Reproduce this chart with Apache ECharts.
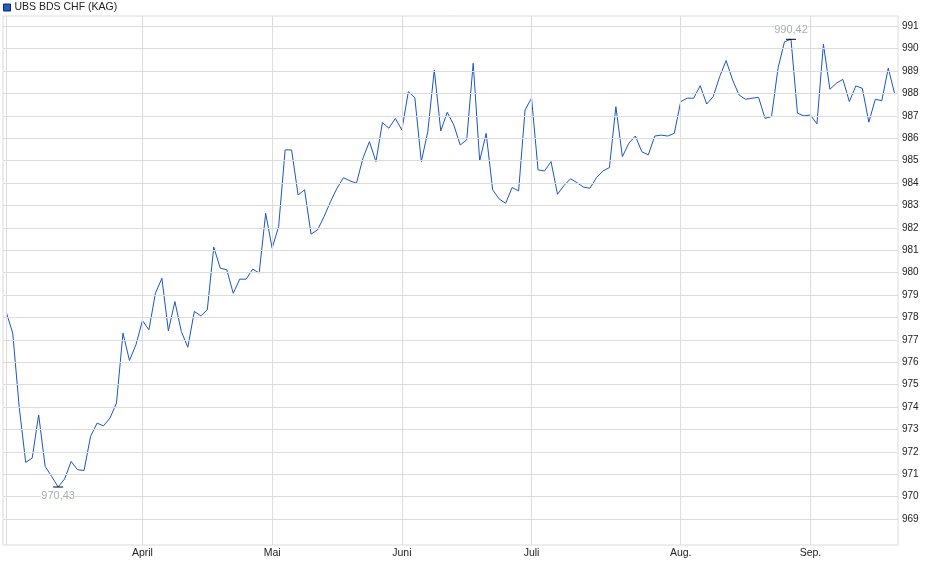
<!DOCTYPE html>
<html>
<head>
<meta charset="utf-8">
<script src="https://cdn.jsdelivr.net/npm/echarts@6/dist/echarts.min.js"></script>
<style>html,body{margin:0;padding:0;background:#fff}#c{width:940px;height:579px}</style>
</head>
<body>
<div id="c"></div>
<script>
const seriesName = 'UBS BDS CHF (KAG)';
const startDate = '2025-03-03';
const endDate = '2025-09-18';
const holidays = ['2025-04-18','2025-04-21','2025-05-01','2025-05-29','2025-06-09','2025-08-01'];
const monthNames = ['Jan.','Feb.','März','April','Mai','Juni','Juli','Aug.','Sep.','Okt.','Nov.','Dez.'];
const yTicks = [969,970,971,972,973,974,975,976,977,978,979,980,981,982,983,984,985,986,987,988,989,990,991];

const marchValues = [978.24,977.30,974.00,971.53,971.72,973.65,971.35,970.90,970.43,970.79,971.57,971.20,971.17,972.69,973.28,973.16,973.51,974.18,977.30,976.08,976.78];
const aprilValues = [977.86,977.45,979.08,979.75,977.40,978.71,977.37,976.67,978.27,978.07,978.34,981.14,980.20,980.13,979.08,979.71,979.71,980.16,979.98,982.65];
const mayValues = [981.09,982.06,985.48,985.48,983.47,983.70,981.72,981.91,982.50,983.17,983.77,984.24,984.10,983.99,985.11,985.85,984.96,986.70,986.45,986.89];
const juneValues = [986.37,988.08,987.81,984.96,986.30,989.05,986.33,987.16,986.60,985.70,985.93,989.35,984.99,986.22,983.70,983.29,983.10,983.80,983.65,987.27];
const julyValues = [987.79,984.59,984.54,984.96,983.50,983.89,984.19,984.02,983.82,983.77,984.24,984.54,984.69,987.41,985.18,985.78,986.10,985.40,985.26,986.10,986.14,986.10,986.22];
const augValues = [987.64,987.79,987.79,988.35,987.53,987.86,988.75,989.47,988.60,987.93,987.74,987.79,987.83,986.89,986.97,989.13,990.31,990.42,987.12,987.00];
const sepValues = [987.04,986.64,990.20,988.19,988.46,988.63,987.64,988.34,988.23,986.72,987.74,987.68,989.13,987.97];

const values = [].concat(marchValues, aprilValues, mayValues, juneValues, julyValues, augValues, sepValues);

// trading-day categories
const dates = [];
(function(){
  let d = new Date(startDate + 'T00:00:00Z');
  const end = new Date(endDate + 'T00:00:00Z');
  while (d <= end) {
    const s = d.toISOString().slice(0,10);
    const wd = d.getUTCDay();
    if (wd !== 0 && wd !== 6 && holidays.indexOf(s) < 0) dates.push(s);
    d = new Date(d.getTime() + 86400000);
  }
})();

const monthStartIdx = [];
dates.forEach((s, i) => { if (i === 0 || s.slice(0,7) !== dates[i-1].slice(0,7)) monthStartIdx.push(i); });

const fmt = v => v.toFixed(2).replace('.', ',');
const font = '"Liberation Sans", Arial, sans-serif';
const gridColor = '#dcdcdc';

const chart = echarts.init(document.getElementById('c'));
chart.setOption({
  animation: false,
  legend: {
    left: 3, top: 2, padding: 0,
    data: [seriesName],
    icon: 'rect', itemWidth: 7, itemHeight: 7, itemGap: 10,
    textStyle: { fontFamily: font, fontSize: 10.5, color: '#222', padding: [0,0,0,-1] },
    itemStyle: { color: '#1f5cc4', borderColor: '#0b2a66', borderWidth: 1 }
  },
  grid: { left: 3, right: 42, top: 16, bottom: 34, show: true, borderColor: gridColor, borderWidth: 1, containLabel: false },
  xAxis: {
    type: 'category', data: dates, boundaryGap: true,
    axisLine: { show: false }, axisTick: { show: false }, splitLine: { show: false },
    axisLabel: {
      interval: (idx) => idx > 0 && monthStartIdx.indexOf(idx) >= 0,
      formatter: v => monthNames[parseInt(v.slice(5,7),10) - 1],
      fontFamily: font, fontSize: 10.5, color: '#222', margin: 3
    }
  },
  yAxis: {
    type: 'value', position: 'right', min: 967.84, max: 991.46, scale: true,
    splitNumber: 24, minInterval: 1, maxInterval: 1,
    axisLine: { show: false }, axisTick: { show: false },
    splitLine: { show: false },
    axisLabel: {
      formatter: v => (yTicks.indexOf(Math.round(v)) >= 0 && Math.abs(v - Math.round(v)) < 1e-6 ? String(Math.round(v)) : ''),
      showMinLabel: false, showMaxLabel: false,
      fontFamily: font, fontSize: 10, color: '#222', margin: 4
    }
  },
  series: [
    {
      name: 'grid', type: 'line', data: values, symbol: 'none', silent: true, z: 1,
      lineStyle: { opacity: 0 }, tooltip: { show: false },
      markLine: {
        silent: true, symbol: ['none','none'], label: { show: false },
        lineStyle: { color: gridColor, width: 1, type: 'solid' },
        data: monthStartIdx.map(i => ({ xAxis: dates[i] })).concat(yTicks.map(v => ({ yAxis: v })))
      }
    },
    {
      name: seriesName, type: 'line', data: values, symbol: 'none', z: 3,
      lineStyle: { color: '#1a56c4', width: 1 },
      itemStyle: { color: '#1f5cc4' },
      markPoint: {
        symbol: 'rect', symbolSize: [10, 1],
        itemStyle: { color: '#000' },
        label: { fontFamily: font, fontSize: 11, color: '#a6adb5', backgroundColor: '#fff', distance: 3, formatter: p => fmt(p.value) },
        data: [
          { type: 'min', label: { position: 'bottom' } },
          { type: 'max', label: { position: 'top' } }
        ]
      }
    }
  ]
});
</script>
</body>
</html>
